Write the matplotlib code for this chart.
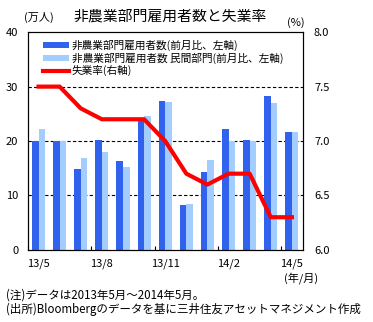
import matplotlib
matplotlib.use("Agg")
import matplotlib.pyplot as plt
import numpy as np

plt.rcParams['font.family'] = ['Noto Sans CJK JP', 'DejaVu Sans']

months = ['13/5', '13/6', '13/7', '13/8', '13/9', '13/10', '13/11',
          '13/12', '14/1', '14/2', '14/3', '14/4', '14/5']
nfp = [20.0, 20.0, 14.9, 20.2, 16.3, 23.8, 27.4, 8.3, 14.3, 22.2, 20.2, 28.2, 21.7]
nfp_private = [22.2, 20.0, 16.9, 18.0, 15.2, 24.6, 27.2, 8.4, 16.5, 20.0, 20.0, 27.0, 21.7]
unemp = [7.5, 7.5, 7.3, 7.2, 7.2, 7.2, 7.0, 6.7, 6.6, 6.7, 6.7, 6.3, 6.3]
label_idx = [0, 3, 6, 9, 12]

dark = '#3162ee'
light = '#a3cdff'

fig = plt.figure(figsize=(3.73, 3.22), dpi=100)
ax = fig.add_axes([0.075, 0.224, 0.737, 0.676])
x = np.arange(len(months))
w = 0.31
b1 = ax.bar(x - w/2, nfp, w, color=dark, label='非農業部門雇用者数(前月比、左軸)', zorder=2)
b2 = ax.bar(x + w/2, nfp_private, w, color=light, label='非農業部門雇用者数 民間部門(前月比、左軸)', zorder=2)
ax.set_ylim(0, 40)
ax.set_xlim(-0.48, 12.52)
ax.set_yticks([0, 10, 20, 30, 40])
for yv in [10, 20, 30]:
    ax.axhline(yv, color='black', lw=0.8, ls=(0, (3, 2)), zorder=1)
ax.set_xticks(x[label_idx])
ax.set_xticklabels([months[i] for i in label_idx])
ax.set_xticks(np.arange(-0.5, 13, 3), minor=True)
ax.tick_params(axis='x', which='major', length=0, pad=6, labelsize=8)
ax.tick_params(axis='x', which='minor', direction='in', length=3, width=0.8)
ax.tick_params(axis='y', length=0, pad=7, labelsize=8)
for s in ax.spines.values():
    s.set_linewidth(0.8)

ax2 = ax.twinx()
l1, = ax2.plot(x, unemp, color='#ff0000', lw=3, label='失業率(右軸)', zorder=3)
ax2.set_ylim(6.0, 8.0)
ax2.set_yticks([6.0, 6.5, 7.0, 7.5, 8.0])
ax2.set_yticklabels(['6.0', '6.5', '7.0', '7.5', '8.0'])
ax2.tick_params(axis='y', length=0, pad=8, labelsize=8)

leg = ax.legend(handles=[b1, b2, l1], loc='upper left', bbox_to_anchor=(0.03, 0.995),
                frameon=False, fontsize=7.7, handlelength=2.5, handleheight=0.5,
                labelspacing=0.15, handletextpad=0.2, borderaxespad=0.2)

fig.text(0.105, 0.945, '(万人)', fontsize=8, ha='center', va='center')
fig.text(0.455, 0.948, '非農業部門雇用者数と失業率', fontsize=10.7, ha='center', va='center')
fig.text(0.792, 0.93, '(%)', fontsize=8, ha='center', va='center')
fig.text(0.807, 0.137, '(年/月)', fontsize=8, ha='center', va='center')
fig.text(0.015, 0.083, '(注)データは2013年5月～2014年5月。', fontsize=8.3, ha='left', va='center')
fig.text(0.015, 0.04, '(出所)Bloombergのデータを基に三井住友アセットマネジメント作成', fontsize=8.3, ha='left', va='center')

fig.savefig('out.png', dpi=100)
